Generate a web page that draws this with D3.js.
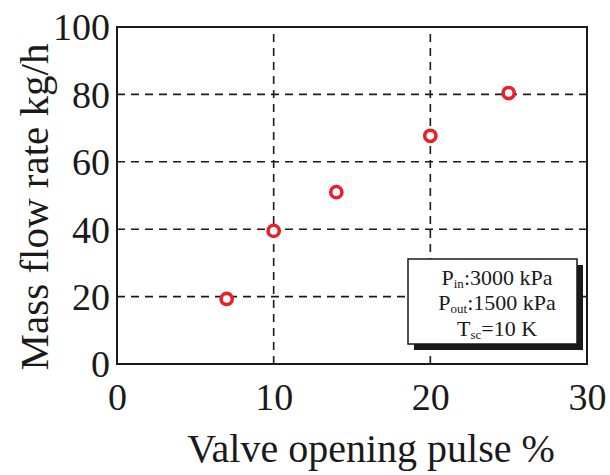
<!DOCTYPE html>
<html><head><meta charset="utf-8">
<script src="https://cdn.jsdelivr.net/npm/d3@7"></script>
<style>body{margin:0;background:#fff}svg{display:block}text{font-family:"Liberation Serif","Times New Roman",serif;fill:#1a1a1a}</style>
</head><body>
<script>
const xValues = [7, 10, 14, 20, 25];
const yValues = [19.3, 39.5, 51.0, 67.7, 80.4];
const xTicks = [0, 10, 20, 30];
const yTicks = [0, 20, 40, 60, 80, 100];
const xLabel = "Valve opening pulse %";
const yLabel = "Mass flow rate kg/h";

const W = 610, H = 475;
const m = {left: 117, right: 23, top: 27, bottom: 111};
const svg = d3.select("body").append("svg").attr("width", W).attr("height", H);
const x = d3.scaleLinear().domain([0, 30]).range([m.left, W - m.right]);
const y = d3.scaleLinear().domain([0, 100]).range([H - m.bottom, m.top]);

// grid
const g = svg.append("g");
g.selectAll(".hg").data(yTicks.filter(v => v > 0 && v < 100)).join("line")
  .attr("x1", x(0)).attr("x2", x(30)).attr("y1", d => y(d)).attr("y2", d => y(d))
  .attr("stroke", "#1a1a1a").attr("stroke-width", 1.6).attr("stroke-dasharray", "8,6");
g.selectAll(".vg").data(xTicks.filter(v => v > 0 && v < 30)).join("line")
  .attr("y1", y(0)).attr("y2", y(100)).attr("x1", d => x(d)).attr("x2", d => x(d))
  .attr("stroke", "#1a1a1a").attr("stroke-width", 1.6).attr("stroke-dasharray", "8,6");

// axes (labels only)
const ax = svg.append("g").attr("transform", `translate(0,${y(0)})`)
  .call(d3.axisBottom(x).tickValues(xTicks).tickSize(0).tickPadding(0).tickFormat(d3.format("d")));
ax.select(".domain").remove();
ax.selectAll("text").attr("font-size", 38).attr("dy", null).attr("y", 46)
  .style("font-family", '"Liberation Serif",serif').attr("fill", "#1a1a1a");
const ay = svg.append("g").attr("transform", `translate(${x(0)},0)`)
  .call(d3.axisLeft(y).tickValues(yTicks).tickSize(0).tickPadding(7).tickFormat(d3.format("d")));
ay.select(".domain").remove();
ay.selectAll("text").attr("font-size", 38).attr("dy", "0.34em")
  .style("font-family", '"Liberation Serif",serif').attr("fill", "#1a1a1a");

// frame
svg.append("rect").attr("x", x(0)).attr("y", y(100)).attr("width", x(30) - x(0)).attr("height", y(0) - y(100))
  .attr("fill", "none").attr("stroke", "#1a1a1a").attr("stroke-width", 2);

// legend box
const bx = 408, by = 259, bw = 169, bh = 85;
svg.append("rect").attr("x", bx + 6).attr("y", by + 6).attr("width", bw).attr("height", bh).attr("fill", "#1a1a1a");
svg.append("rect").attr("x", bx).attr("y", by).attr("width", bw).attr("height", bh)
  .attr("fill", "#fff").attr("stroke", "#1a1a1a").attr("stroke-width", 1.5);
const lines = [["P", "in", ":3000 kPa", 285], ["P", "out", ":1500 kPa", 310], ["T", "sc", "=10 K", 336]];
lines.forEach(([a, s, b, yy]) => {
  const t = svg.append("text").attr("x", 497).attr("y", yy).attr("text-anchor", "middle").attr("font-size", 22);
  t.append("tspan").text(a);
  t.append("tspan").attr("font-size", 13).attr("dy", 3).text(s);
  t.append("tspan").attr("dy", -3).text(b);
});

// points
svg.selectAll(".pt").data(xValues.map((v, i) => [v, yValues[i]])).join("circle")
  .attr("cx", d => x(d[0])).attr("cy", d => y(d[1])).attr("r", 5.6)
  .attr("fill", "#fff").attr("stroke", "#e8202a").attr("stroke-width", 3.6);

// axis titles
svg.append("text").attr("x", 371).attr("y", 462).attr("text-anchor", "middle").attr("font-size", 40).text(xLabel);
svg.append("text").attr("transform", "translate(48,207) rotate(-90)").attr("text-anchor", "middle").attr("font-size", 41).text(yLabel);
</script>
</body></html>
